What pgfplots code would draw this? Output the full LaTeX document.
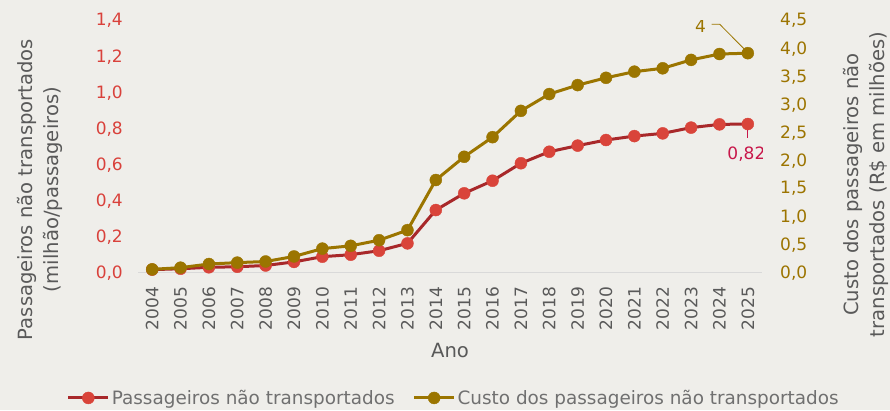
\documentclass[border=0pt]{standalone}
\usepackage{fontspec}
\setmainfont{DejaVu Sans}
\usepackage{pgfplots}
\pgfplotsset{compat=1.18}
\definecolor{bg}{HTML}{EFEEEA}
\definecolor{redline}{HTML}{A8282A}
\definecolor{redmark}{HTML}{D9443A}
\definecolor{redtick}{HTML}{D9413B}
\definecolor{olive}{HTML}{9B7500}
\definecolor{olivetick}{HTML}{9C7400}
\definecolor{labgrey}{HTML}{595959}
\definecolor{leggrey}{HTML}{707070}
\definecolor{crimson}{HTML}{C8174A}
\definecolor{axgrey}{HTML}{D9D9D9}

\pgfplotstableread{
year pass
2004 0.017
2005 0.022
2006 0.030
2007 0.033
2008 0.040
2009 0.060
2010 0.089
2011 0.100
2012 0.122
2013 0.163
2014 0.348
2015 0.441
2016 0.511
2017 0.608
2018 0.672
2019 0.706
2020 0.737
2021 0.759
2022 0.774
2023 0.806
2024 0.824
2025 0.826
}\passtable

\pgfplotstableread{
year cost
2004 0.06
2005 0.09
2006 0.155
2007 0.18
2008 0.20
2009 0.29
2010 0.43
2011 0.48
2012 0.58
2013 0.76
2014 1.655
2015 2.07
2016 2.42
2017 2.89
2018 3.19
2019 3.35
2020 3.48
2021 3.59
2022 3.65
2023 3.80
2024 3.905
2025 3.92
}\costtable

\newcommand{\tickfont}{\fontsize{17}{20}\selectfont}
\newcommand{\legfont}{\fontsize{18.4}{22}\selectfont}
\newcommand{\labfont}{\fontsize{19.6}{26}\selectfont}

\begin{document}
\begin{tikzpicture}[x=1pt,y=1pt]
\fill[bg] (0,0) rectangle (890,410);
\useasboundingbox (0,0) rectangle (890,410);

\pgfplotsset{
  common/.style={
    at={(138pt,137.3pt)}, anchor=south west,
    scale only axis, width=624pt, height=252pt,
    xmin=2003.5, xmax=2025.5, ymin=0,
    axis line style={draw=none},
    major tick length=0pt,
    /pgf/number format/.cd, fixed, fixed zerofill, precision=1, use comma, assume math mode=true,
  },
  redser/.style={redline, line width=3pt, mark=*, mark size=6pt, mark options={solid, fill=redmark, draw=redmark, line width=0.4pt}},
  oliveser/.style={olive, line width=3pt, mark=*, mark size=6pt, mark options={solid, fill=olive, draw=olive, line width=0.4pt}},
}

\begin{axis}[
  common,
  ymax=1.4,
  ytick={0,0.2,0.4,0.6,0.8,1.0,1.2,1.4},
  yticklabel style={font=\tickfont, text=redtick, anchor=east, inner sep=0pt},
  yticklabel shift=15pt,
  xtick={2004,2005,2006,2007,2008,2009,2010,2011,2012,2013,2014,2015,2016,2017,2018,2019,2020,2021,2022,2023,2024,2025},
  xticklabels={2004,2005,2006,2007,2008,2009,2010,2011,2012,2013,2014,2015,2016,2017,2018,2019,2020,2021,2022,2023,2024,2025},
  xticklabel style={font=\tickfont, text=labgrey, rotate=90, anchor=east, inner sep=0pt},
  xticklabel shift=14pt,
  xlabel={Ano},
  xlabel style={at={(axis description cs:0.5,-0.307)}, anchor=center, font=\labfont, text=labgrey},
  ylabel={Passageiros não transportados\\(milhão/passageiros)},
  ylabel style={at={(axis description cs:-0.157,0.33)}, anchor=center, rotate=0, font=\labfont, text=labgrey, align=center},
]
\draw[axgrey, line width=1.2pt] (axis cs:2003.5,0) -- (axis cs:2025.5,0);
\addplot[redser] table[x=year, y=pass] {\passtable};
\end{axis}

\begin{axis}[
  common,
  ymax=4.5,
  xtick=\empty,
  ytick={0,0.5,1.0,1.5,2.0,2.5,3.0,3.5,4.0,4.5},
  yticklabel pos=right,
  yticklabel style={font=\tickfont, text=olivetick, anchor=west, inner sep=0pt},
  yticklabel shift=18pt,
  ylabel={Custo dos passageiros não\\transportados (R\$ em milhões)},
  ylabel style={at={(axis description cs:1.1667,0.35)}, anchor=center, rotate=0, font=\labfont, text=labgrey, align=center},
  legend style={at={(axis description cs:0.506,-0.497)}, anchor=center, legend columns=2, draw=none, fill=none, font=\legfont, text=leggrey,
    /tikz/every even column/.append style={column sep=16pt}, inner sep=0pt, nodes={inner sep=2pt}},
  legend image code/.code={\draw[mark repeat=2, mark phase=2, #1] plot coordinates {(0pt,0pt) (20pt,0pt) (40pt,0pt)};},
]
\addlegendimage{redser}
\addlegendentry{Passageiros não transportados}
\addplot[oliveser] table[x=year, y=cost] {\costtable};
\addlegendentry{Custo dos passageiros não transportados}
\draw[olive, line width=0.8pt] (axis cs:2023.72,4.436) -- (axis cs:2024.01,4.436) -- (axis cs:2024.9,3.98);
\node[text=olive, font=\tickfont] at (axis cs:2023.33,4.405) {4};
\draw[crimson, line width=0.8pt] (axis cs:2024.99,2.548) -- (axis cs:2024.99,2.405);
\node[text=crimson, font=\tickfont] at (axis cs:2024.95,2.12) {0,82};
\end{axis}
\end{tikzpicture}
\end{document}
